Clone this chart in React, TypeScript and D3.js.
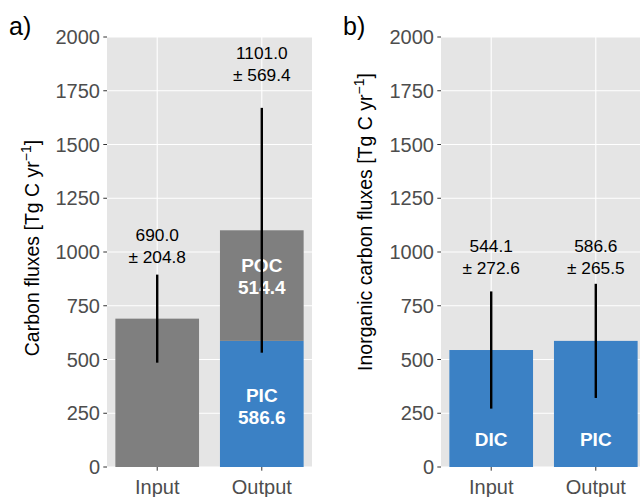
import React from "react";
import * as d3 from "d3";

// panel a: total carbon fluxes
const catsA = ["Input", "Output"];
const inputA = 690.0;
const inputSdA = 204.8;
const outPIC = 586.6;
const outPOC = 514.4;
const outTotal = 1101.0;
const outSdA = 569.4;
const annotYA = [949, 1795];

// panel b: inorganic carbon fluxes
const catsB = ["Input", "Output"];
const valuesB = [544.1, 586.6];
const sdB = [272.6, 265.5];
const barNamesB = ["DIC", "PIC"];
const annotYB = [898, 898];

const yTicks = [0, 250, 500, 750, 1000, 1250, 1500, 1750, 2000];

const GRAY = "#7f7f7f";
const BLUE = "#3b81c5";
const FONT = "Liberation Sans, Arial, sans-serif";

const top = 37;
const bottom = 467;
const y = d3.scaleLinear().domain([0, 2000]).range([bottom, top]);

type PanelProps = {
  left: number;
  width: number;
  cats: string[];
  tag: string;
  title: string;
  titleY: number;
  titleX: number;
  tagX: number;
  children: (x: d3.ScaleBand<string>) => React.ReactNode;
};

const Panel = ({ left, width, cats, tag, title, titleX, titleY, tagX, children }: PanelProps) => {
  const x = d3.scaleBand<string>()
    .domain(cats)
    .range([left, left + width])
    .paddingInner(0.2)
    .paddingOuter(0.08);
  const cx = (c: string) => (x(c) as number) + x.bandwidth() / 2;
  return (
    <g>
      <rect x={left} y={top} width={width} height={bottom - top} fill="#e5e5e5" />
      {yTicks.map(t => (
        <line key={t} x1={left} x2={left + width} y1={y(t)} y2={y(t)} stroke="#fff" strokeWidth={1.1} />
      ))}
      {cats.map(c => (
        <line key={c} x1={cx(c)} x2={cx(c)} y1={top} y2={bottom} stroke="#fff" strokeWidth={1.1} />
      ))}
      {children(x)}
      {yTicks.map(t => (
        <g key={t}>
          <line x1={left - 3.7} x2={left} y1={y(t)} y2={y(t)} stroke="#333" strokeWidth={1} />
          <text x={left - 7} y={y(t)} dy="0.36em" textAnchor="end" fontSize={20} fill="#4d4d4d">{t}</text>
        </g>
      ))}
      {cats.map(c => (
        <g key={c}>
          <line x1={cx(c)} x2={cx(c)} y1={bottom} y2={bottom + 3.7} stroke="#333" strokeWidth={1} />
          <text x={cx(c)} y={494} textAnchor="middle" fontSize={20} fill="#4d4d4d">{c}</text>
        </g>
      ))}
      <text transform={`translate(${titleX},${titleY}) rotate(-90)`} textAnchor="middle" fontSize={19.5} fill="#000">
        {title}
        <tspan>[Tg C yr</tspan>
        <tspan dy={-8} fontSize={14}>−1</tspan>
        <tspan dy={8}>]</tspan>
      </text>
      <text x={tagX} y={35} fontSize={25} fill="#000">{tag}</text>
    </g>
  );
};

const ErrBar = ({ x, mean, sd }: { x: number; mean: number; sd: number }) => (
  <line x1={x} x2={x} y1={y(mean - sd)} y2={y(mean + sd)} stroke="#000" strokeWidth={2.4} />
);

const Annot = ({ x, at, mean, sd }: { x: number; at: number; mean: number; sd: number }) => (
  <text x={x} y={y(at)} textAnchor="middle" fontSize={17.3} fill="#000">
    <tspan x={x} dy={-22}>{mean.toFixed(1)}</tspan>
    <tspan x={x} dy={22}>± {sd.toFixed(1)}</tspan>
  </text>
);

const BarLabel = ({ x, at, lines }: { x: number; at: number; lines: string[] }) => (
  <text x={x} y={y(at)} textAnchor="middle" fontSize={19} fontWeight="bold" fill="#fff">
    {lines.map((l, i) => (
      <tspan key={i} x={x} dy={i === 0 ? -(lines.length - 1) * 22 : 22}>{l}</tspan>
    ))}
  </text>
);

export default function App() {
  return (
    <svg width={640} height={497} style={{ display: "block", position: "absolute", left: 0, top: 0 }} fontFamily={FONT}>
      <rect width={640} height={497} fill="#fff" />
      <Panel left={107} width={205} cats={catsA} tag="a)" tagX={9}
        title="Carbon fluxes " titleX={39} titleY={248}>
        {x => {
          const bw = x.bandwidth();
          const xi = x("Input") as number;
          const xo = x("Output") as number;
          return (
            <g>
              <rect x={xi} y={y(inputA)} width={bw} height={y(0) - y(inputA)} fill={GRAY} />
              <rect x={xo} y={y(outPIC)} width={bw} height={y(0) - y(outPIC)} fill={BLUE} />
              <rect x={xo} y={y(outPIC + outPOC)} width={bw} height={y(outPIC) - y(outPIC + outPOC)} fill={GRAY} />
              <BarLabel x={xo + bw / 2} at={805} lines={["POC", outPOC.toFixed(1)]} />
              <BarLabel x={xo + bw / 2} at={200} lines={["PIC", outPIC.toFixed(1)]} />
              <ErrBar x={xi + bw / 2} mean={inputA} sd={inputSdA} />
              <ErrBar x={xo + bw / 2} mean={outTotal} sd={outSdA} />
              <Annot x={xi + bw / 2} at={annotYA[0]} mean={inputA} sd={inputSdA} />
              <Annot x={xo + bw / 2} at={annotYA[1]} mean={outTotal} sd={outSdA} />
            </g>
          );
        }}
      </Panel>
      <Panel left={441} width={205} cats={catsB} tag="b)" tagX={343}
        title="Inorganic carbon fluxes " titleX={372} titleY={222}>
        {x => {
          const bw = x.bandwidth();
          return (
            <g>
              {catsB.map((c, i) => {
                const x0 = x(c) as number;
                return (
                  <g key={c}>
                    <rect x={x0} y={y(valuesB[i])} width={bw} height={y(0) - y(valuesB[i])} fill={BLUE} />
                    <BarLabel x={x0 + bw / 2} at={98} lines={[barNamesB[i]]} />
                    <ErrBar x={x0 + bw / 2} mean={valuesB[i]} sd={sdB[i]} />
                    <Annot x={x0 + bw / 2} at={annotYB[i]} mean={valuesB[i]} sd={sdB[i]} />
                  </g>
                );
              })}
            </g>
          );
        }}
      </Panel>
    </svg>
  );
}
